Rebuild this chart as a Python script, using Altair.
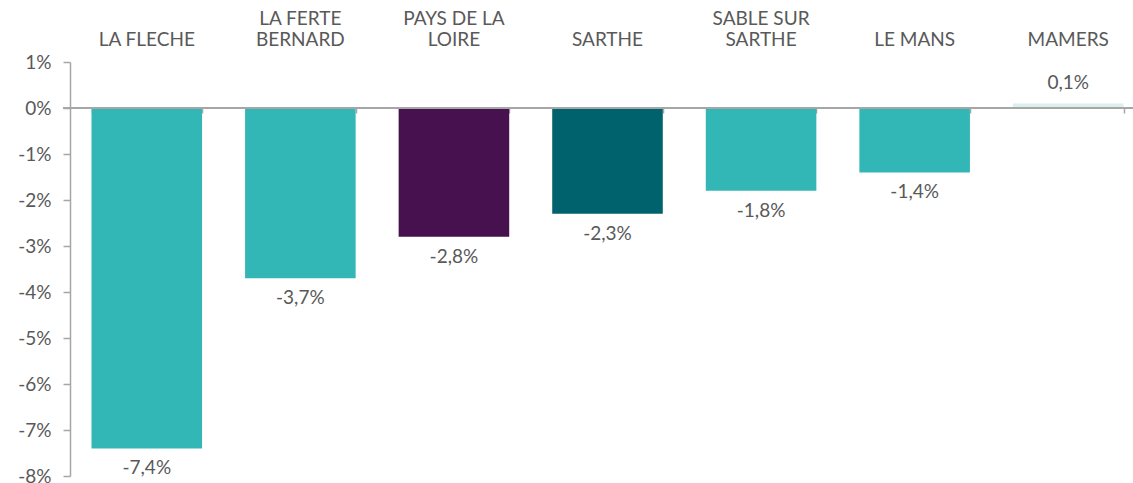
import altair as alt
import pandas as pd

categories = ["LA FLECHE", "LA FERTE|BERNARD", "PAYS DE LA|LOIRE", "SARTHE",
              "SABLE SUR|SARTHE", "LE MANS", "MAMERS"]
values = [-7.4, -3.7, -2.8, -2.3, -1.8, -1.4, 0.1]
colors = ["#33B7B6", "#33B7B6", "#46114E", "#00626D", "#33B7B6", "#33B7B6", "#DCEEEE"]
y_ticks = [1, 0, -1, -2, -3, -4, -5, -6, -7, -8]

df = pd.DataFrame({
    "cat": categories,
    "value": values,
    "color": colors,
    "label": [f"{v:.1f}%".replace(".", ",") for v in values],
})

FONT = "Lato"
TXT = "#595959"
GRAY = "#A6A6A6"

xscale = alt.Scale(domain=categories, range=[0, 1075], paddingInner=0.28, paddingOuter=0.14)
yscale = alt.Scale(domain=[-8, 1], nice=False, zero=False)

y_enc = alt.Y("value:Q", scale=yscale, title=None,
              axis=alt.Axis(values=y_ticks, labelExpr="datum.value + '%'", grid=False,
                            domainColor=GRAY, domainWidth=1.5, tickColor=GRAY, tickSize=7,
                            tickWidth=1.5, labelFont=FONT, labelFontSize=19,
                            labelColor=TXT, labelPadding=12))

base = alt.Chart(df)

bars = base.mark_bar().encode(
    x=alt.X("cat:N", scale=xscale, sort=categories, title=None,
            axis=alt.Axis(orient="top", domain=False, ticks=False, labelAngle=0,
                          labelExpr="indexof(datum.label, '|') < 0 ? ['', datum.label] : split(datum.label, '|')",
                          labelFont=FONT, labelFontSize=19, labelColor=TXT,
                          labelPadding=34, labelLineHeight=21, labelBaseline="bottom")),
    y=y_enc,
    color=alt.Color("color:N", scale=None),
)

zero = base.mark_rule(color=GRAY, strokeWidth=2).encode(
    y=alt.datum(0, scale=yscale), x=alt.value(-7), x2=alt.value(1063)
)

neg_text = base.transform_filter("datum.value < 0").mark_text(
    baseline="top", dy=11, font=FONT, fontSize=19, color=TXT
).encode(
    x=alt.X("cat:N", scale=xscale, sort=categories, title=None,
            axis=alt.Axis(orient="bottom", offset=-368, labels=False, domain=False,
                          ticks=True, tickBand="extent", tickOffset=21.5, tickSize=5,
                          tickColor=GRAY, tickWidth=1.5)),
    y=y_enc,
    text="label:N",
)

pos_text = base.transform_filter("datum.value >= 0").mark_text(
    baseline="bottom", dy=-10, font=FONT, fontSize=19, color=TXT
).encode(
    x=alt.X("cat:N", scale=xscale, sort=categories, axis=None),
    y=y_enc,
    text="label:N",
)

chart = alt.layer(bars, zero, neg_text, pos_text).resolve_axis(x="independent").properties(
    width=1063, height=414,
    autosize=alt.AutoSizeParams(type="none"),
    padding={"left": 70, "top": 62, "right": 0, "bottom": 7},
).configure_view(stroke=None)

chart.save("out.html", embed_options={"renderer": "svg", "actions": False})
